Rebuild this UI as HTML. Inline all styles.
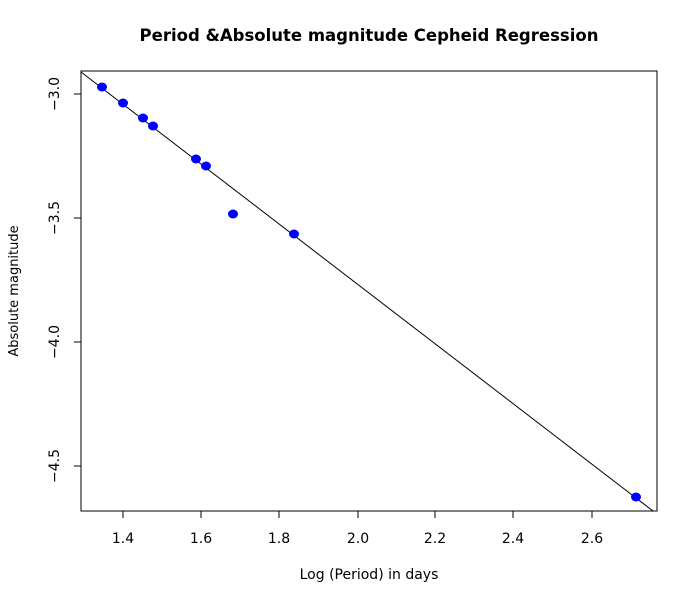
<!DOCTYPE html>
<html><head><meta charset="utf-8"><style>html,body{margin:0;padding:0;background:#fff}</style></head>
<body>
<svg width="697" height="599" xmlns="http://www.w3.org/2000/svg" font-family="'DejaVu Sans','Liberation Sans',sans-serif">
<rect width="697" height="599" fill="#fff"/>
<text x="369" y="41" text-anchor="middle" font-size="16.5" font-weight="bold">Period &amp;Absolute magnitude Cepheid Regression</text>
<rect x="81" y="71" width="576" height="440" fill="none" stroke="#000" stroke-width="1"/>
<g stroke="#000" stroke-width="1">
<line x1="123" y1="511" x2="592" y2="511"/>
<line x1="123" y1="511" x2="123" y2="518"/>
<line x1="201" y1="511" x2="201" y2="518"/>
<line x1="279" y1="511" x2="279" y2="518"/>
<line x1="358" y1="511" x2="358" y2="518"/>
<line x1="435" y1="511" x2="435" y2="518"/>
<line x1="513" y1="511" x2="513" y2="518"/>
<line x1="592" y1="511" x2="592" y2="518"/>
<line x1="81" y1="94" x2="81" y2="466"/>
<line x1="81" y1="94" x2="74" y2="94"/>
<line x1="81" y1="218" x2="74" y2="218"/>
<line x1="81" y1="342" x2="74" y2="342"/>
<line x1="81" y1="466" x2="74" y2="466"/>
</g>
<g font-size="14" text-anchor="middle">
<text x="123" y="543">1.4</text><text x="201" y="543">1.6</text><text x="279" y="543">1.8</text>
<text x="358" y="543">2.0</text><text x="435" y="543">2.2</text><text x="513" y="543">2.4</text><text x="592" y="543">2.6</text>
<text transform="translate(59,94) rotate(-90)">−3.0</text>
<text transform="translate(59,218) rotate(-90)">−3.5</text>
<text transform="translate(59,342) rotate(-90)">−4.0</text>
<text transform="translate(59,466) rotate(-90)">−4.5</text>
<text x="369" y="579">Log (Period) in days</text>
<text transform="translate(18,291) rotate(-90)" font-size="13">Absolute magnitude</text>
</g>
<line x1="81" y1="72" x2="653" y2="511" stroke="#000" stroke-width="1"/>
<g fill="#0000ff">
<ellipse cx="102" cy="87" rx="5" ry="4.5"/>
<ellipse cx="123" cy="103" rx="5" ry="4.5"/>
<ellipse cx="143" cy="118" rx="5" ry="4.5"/>
<ellipse cx="153" cy="126" rx="5" ry="4.5"/>
<ellipse cx="196" cy="159" rx="5" ry="4.5"/>
<ellipse cx="206" cy="166" rx="5" ry="4.5"/>
<ellipse cx="233" cy="214" rx="5" ry="4.5"/>
<ellipse cx="294" cy="234" rx="5" ry="4.5"/>
<ellipse cx="636" cy="497" rx="5" ry="4.5"/>
</g>
</svg>
</body></html>
